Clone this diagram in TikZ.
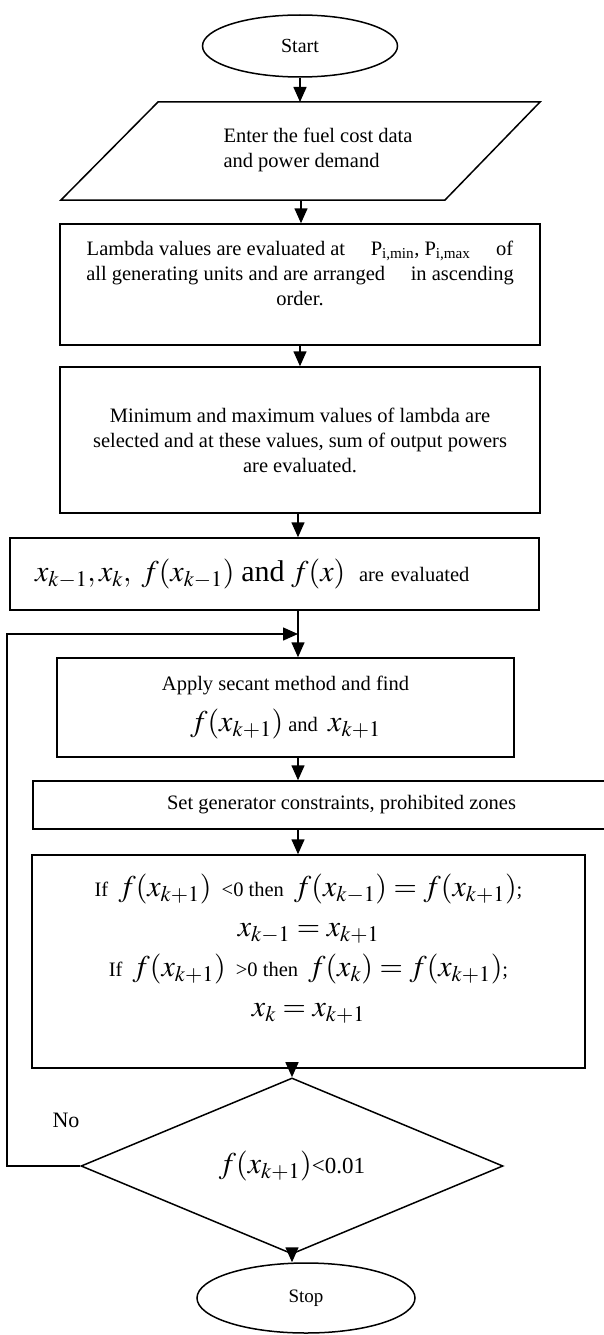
\documentclass[tikz,border=0pt]{standalone}
\usepackage{mathptmx}
\usepackage{fontspec}
\setmainfont{Liberation Serif}
\usetikzlibrary{shapes.geometric,arrows.meta}
\newcommand{\lgm}[1]{{\fontsize{30}{32}\selectfont$#1$}}
\begin{document}
\begin{tikzpicture}[x=1pt,y=-1pt,line width=1.5pt,
  box/.style={draw,rectangle,inner sep=0pt},
  term/.style={draw,ellipse,inner sep=0pt,font=\fontsize{20}{22}\selectfont},
  txt/.style={font=\fontsize{20.5}{25}\selectfont,align=center},
  arr/.style={-{Triangle[length=15pt,width=13pt]}}]
\useasboundingbox (0,0) rectangle (604,1335);
\coordinate (col) at (298,0);

\node[term,minimum width=195,minimum height=62] (start) at (300,46) {Start};

\draw (158,102) -- (540,102) -- (445,200) -- (61,200) -- cycle;
\coordinate (inTop) at (301,102);
\coordinate (inBot) at (301,200);
\node[txt,align=left] (input) at (318,150) {Enter the fuel cost data\\and power demand};

\node[box,minimum width=480,minimum height=121] (lambda) at (300,284.5) {};
\node[txt] (lambdaTxt) at (300,273) {Lambda values are evaluated at \quad P\textsubscript{i,min}, P\textsubscript{i,max} \quad of\\all generating units and are arranged \quad in ascending\\order.};

\node[box,txt,minimum width=480,minimum height=146] (minbox) at (300,440) {Minimum and maximum values of lambda are\\selected and at these values, sum of output powers\\are evaluated.};

\node[box,txt,minimum width=529,minimum height=72,text width=479,align=left] (xbox) at (274.5,574) {{\fontsize{30}{32}\selectfont$x_{k-1},x_k,\ f(x_{k-1})$ and $f(x)$}\ \ are evaluated};

\node[box,txt,minimum width=457,minimum height=99] (secant) at (285.5,707.5) {Apply secant method and find\\[14pt]\lgm{f(x_{k+1})} and \ \lgm{x_{k+1}}};

\node[box,txt,minimum width=617,minimum height=48] (setbox) at (341.5,805) {Set generator constraints, prohibited zones};

\node[box,minimum width=553,minimum height=213] (ifbox) at (308.5,961.5) {};
\node[txt,font=\fontsize{20.5}{40}\selectfont] (ifTxt) at (308.5,949) {If \ \lgm{f(x_{k+1})} \ <0 then \ \lgm{f(x_{k-1})=f(x_{k+1})};\\\lgm{x_{k-1}=x_{k+1}}\\If \ \lgm{f(x_{k+1})} \ >0 then \ \lgm{f(x_k)=f(x_{k+1})};\\\lgm{x_k=x_{k+1}}};

\node[draw,diamond,minimum width=422,minimum height=143,inner sep=0pt,font=\fontsize{23}{25}\selectfont] (dec) at (292,1166) {\lgm{f(x_{k+1})}<0.01\hspace{20pt}};
\node[font=\fontsize{22}{25}\selectfont] (no) at (66,1120) {No};

\node[term,minimum width=218,minimum height=70,font=\fontsize{19}{22}\selectfont] (stop) at (306,1298) {Stop};

\coordinate (loopL) at (7,634);
\coordinate (join) at (col |- loopL);

\draw[arr] (start) -- (start |- inTop);
\draw[arr] (inBot) -- (inBot |- lambda.north);
\draw[arr] (lambda) -- (minbox);
\draw[arr] (minbox.south -| col) -- (xbox.north -| col);
\draw[arr] (xbox.south -| col) -- (secant.north -| col);
\draw[arr] (secant.south -| col) -- (setbox.north -| col);
\draw[arr] (setbox.south -| col) -- (ifbox.north -| col);
\draw[arr] (ifbox.south -| dec.north) -- (dec.north);
\draw[arr] (dec.south) -- (dec.south |- stop.north);
\draw[arr] (dec.west) -| (loopL) -- (join);
\end{tikzpicture}
\end{document}
